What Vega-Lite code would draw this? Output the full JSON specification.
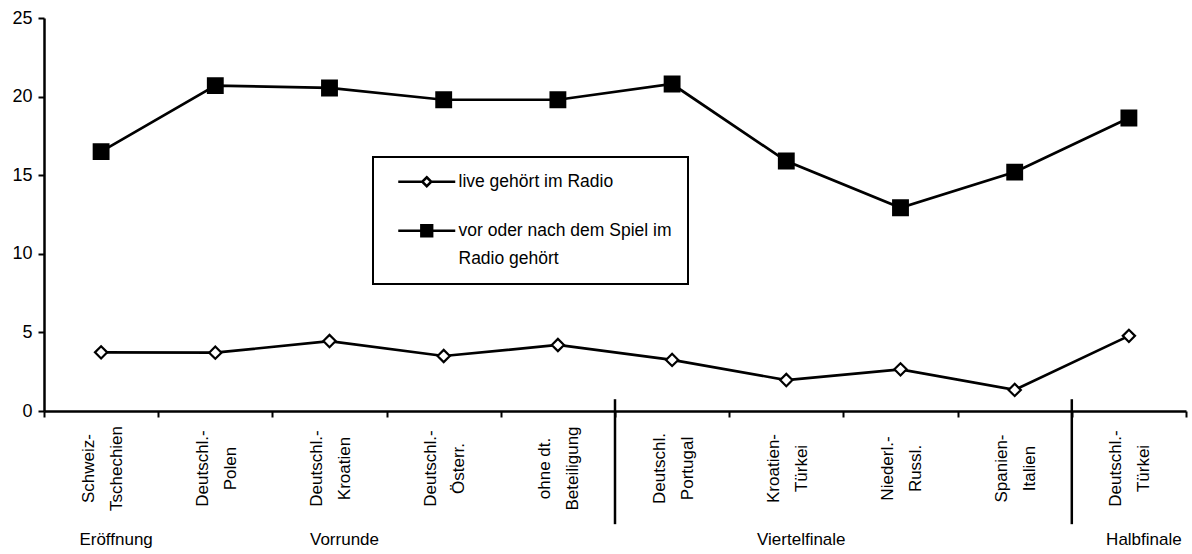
{
  "$schema": "https://vega.github.io/schema/vega-lite/v6.json",
  "width": 1142,
  "height": 393,
  "autosize": {"type": "none"},
  "padding": {"left": 44, "top": 18, "right": 6, "bottom": 143},
  "background": "white",
  "config": {
    "view": {"stroke": null},
    "font": "Liberation Sans",
    "axis": {"labelFont": "Liberation Sans", "labelColor": "black", "grid": false},
    "legend": {"labelFont": "Liberation Sans", "strokeWidth": 2},
    "style": {"guide-label": {"lineHeight": 28}}
  },
  "datasets": {
    "werte": [
      {"spiel": "Schweiz-|Tschechien", "serie": "live gehört im Radio", "wert": 3.73},
      {"spiel": "Deutschl.-|Polen", "serie": "live gehört im Radio", "wert": 3.71},
      {"spiel": "Deutschl.-|Kroatien", "serie": "live gehört im Radio", "wert": 4.45},
      {"spiel": "Deutschl.-|Österr.", "serie": "live gehört im Radio", "wert": 3.5},
      {"spiel": "ohne dt.|Beteiligung", "serie": "live gehört im Radio", "wert": 4.2},
      {"spiel": "Deutschl.|Portugal", "serie": "live gehört im Radio", "wert": 3.25},
      {"spiel": "Kroatien-|Türkei", "serie": "live gehört im Radio", "wert": 1.97},
      {"spiel": "Niederl.-|Russl.", "serie": "live gehört im Radio", "wert": 2.65},
      {"spiel": "Spanien-|Italien", "serie": "live gehört im Radio", "wert": 1.34},
      {"spiel": "Deutschl.-|Türkei", "serie": "live gehört im Radio", "wert": 4.78},
      {"spiel": "Schweiz-|Tschechien", "serie": "vor oder nach dem Spiel im Radio gehört", "wert": 16.5},
      {"spiel": "Deutschl.-|Polen", "serie": "vor oder nach dem Spiel im Radio gehört", "wert": 20.7},
      {"spiel": "Deutschl.-|Kroatien", "serie": "vor oder nach dem Spiel im Radio gehört", "wert": 20.55},
      {"spiel": "Deutschl.-|Österr.", "serie": "vor oder nach dem Spiel im Radio gehört", "wert": 19.8},
      {"spiel": "ohne dt.|Beteiligung", "serie": "vor oder nach dem Spiel im Radio gehört", "wert": 19.8},
      {"spiel": "Deutschl.|Portugal", "serie": "vor oder nach dem Spiel im Radio gehört", "wert": 20.8},
      {"spiel": "Kroatien-|Türkei", "serie": "vor oder nach dem Spiel im Radio gehört", "wert": 15.9},
      {"spiel": "Niederl.-|Russl.", "serie": "vor oder nach dem Spiel im Radio gehört", "wert": 12.93},
      {"spiel": "Spanien-|Italien", "serie": "vor oder nach dem Spiel im Radio gehört", "wert": 15.2},
      {"spiel": "Deutschl.-|Türkei", "serie": "vor oder nach dem Spiel im Radio gehört", "wert": 18.64}
    ],
    "trenner": [
      {"spiel": "Deutschl.|Portugal"},
      {"spiel": "Deutschl.-|Türkei"}
    ]
  },
  "resolve": {"scale": {"x": "shared", "y": "shared"}, "axis": {"x": "independent"}},
  "layer": [
    {
      "data": {"name": "werte"},
      "mark": {"type": "line", "stroke": "black", "strokeWidth": 2.7},
      "encoding": {
        "x": {
          "field": "spiel", "type": "nominal", "sort": null,
          "scale": {"domain": ["Schweiz-|Tschechien", "Deutschl.-|Polen", "Deutschl.-|Kroatien", "Deutschl.-|Österr.", "ohne dt.|Beteiligung", "Deutschl.|Portugal", "Kroatien-|Türkei", "Niederl.-|Russl.", "Spanien-|Italien", "Deutschl.-|Türkei"], "paddingInner": 0, "paddingOuter": 0},
          "axis": {
            "title": null, "orient": "bottom",
            "labelAngle": 270, "labelAlign": "center", "labelBaseline": "middle",
            "labelPadding": 51, "labelLineHeight": 28, "labelOffset": -13,
            "labelExpr": "split(datum.label, '|')",
            "labelFontSize": 17, "labelOverlap": false, "labelLimit": 300, "labelFlush": false,
            "tickBand": "extent", "tickSize": 6, "tickWidth": 2, "tickColor": "black",
            "domainColor": "black", "domainWidth": 2.5
          }
        },
        "y": {
          "field": "wert", "type": "quantitative",
          "scale": {"domain": [0, 25], "nice": false, "zero": true},
          "axis": {
            "title": null, "values": [0, 5, 10, 15, 20, 25],
            "domainColor": "black", "domainWidth": 2.5,
            "tickColor": "black", "tickWidth": 2, "tickSize": 6,
            "labelFontSize": 18, "labelPadding": 6
          }
        },
        "detail": {"field": "serie", "type": "nominal"}
      }
    },
    {
      "data": {"name": "werte"},
      "mark": {"type": "point", "filled": true, "stroke": "black", "strokeWidth": 2.2, "opacity": 1},
      "encoding": {
        "x": {
          "field": "spiel", "type": "nominal", "sort": null,
          "scale": {"domain": ["Schweiz-|Tschechien", "Deutschl.-|Polen", "Deutschl.-|Kroatien", "Deutschl.-|Österr.", "ohne dt.|Beteiligung", "Deutschl.|Portugal", "Kroatien-|Türkei", "Niederl.-|Russl.", "Spanien-|Italien", "Deutschl.-|Türkei"]},
          "axis": {
            "title": null, "orient": "bottom", "offset": 120,
            "domain": false, "ticks": false, "tickSize": 0,
            "labelAngle": 0, "labelAlign": "center", "labelBaseline": "top",
            "labelPadding": 0, "labelOffset": 15, "labelFontSize": 17, "labelOverlap": false,
            "values": ["Schweiz-|Tschechien", "Deutschl.-|Kroatien", "Kroatien-|Türkei", "Deutschl.-|Türkei"],
            "labelExpr": "datum.value == 'Schweiz-|Tschechien' ? 'Eröffnung' : datum.value == 'Deutschl.-|Kroatien' ? 'Vorrunde' : datum.value == 'Kroatien-|Türkei' ? 'Viertelfinale' : 'Halbfinale'"
          }
        },
        "y": {"field": "wert", "type": "quantitative"},
        "fill": {
          "condition": {"test": "datum.serie == 'live gehört im Radio'", "value": "white"},
          "value": "black"
        },
        "size": {
          "condition": {"test": "datum.serie == 'live gehört im Radio'", "value": 150},
          "value": 215
        },
        "shape": {
          "condition": {"test": "datum.serie == 'live gehört im Radio'", "value": "diamond"},
          "value": "square"
        }
      }
    },
    {
      "data": {"name": "trenner"},
      "mark": {"type": "rule", "stroke": "black", "strokeWidth": 2.5, "clip": false},
      "encoding": {
        "x": {
          "field": "spiel", "type": "nominal", "sort": null, "bandPosition": 0,
          "scale": {"domain": ["Schweiz-|Tschechien", "Deutschl.-|Polen", "Deutschl.-|Kroatien", "Deutschl.-|Österr.", "ohne dt.|Beteiligung", "Deutschl.|Portugal", "Kroatien-|Türkei", "Niederl.-|Russl.", "Spanien-|Italien", "Deutschl.-|Türkei"]},
          "axis": null
        },
        "y": {"datum": 0.75, "type": "quantitative"},
        "y2": {"datum": -7.2}
      }
    },
    {
      "data": {"name": "werte"},
      "mark": {"type": "point", "filled": true, "strokeWidth": 2.5, "opacity": 0},
      "encoding": {
        "x": {
          "field": "spiel", "type": "nominal", "sort": null,
          "scale": {"domain": ["Schweiz-|Tschechien", "Deutschl.-|Polen", "Deutschl.-|Kroatien", "Deutschl.-|Österr.", "ohne dt.|Beteiligung", "Deutschl.|Portugal", "Kroatien-|Türkei", "Niederl.-|Russl.", "Spanien-|Italien", "Deutschl.-|Türkei"]},
          "axis": null
        },
        "y": {"field": "wert", "type": "quantitative"},
        "stroke": {
          "field": "serie", "type": "nominal",
          "scale": {"domain": ["live gehört im Radio", "vor oder nach dem Spiel im Radio gehört"], "range": ["black", "black"]},
          "legend": {
            "title": null, "orient": "none", "legendX": 329, "legendY": 139, "direction": "vertical",
            "padding": 16, "strokeColor": "black", "fillColor": "white",
            "symbolSize": 144, "symbolStrokeWidth": 2.5, "symbolOpacity": 1,
            "symbolOffset": 29, "labelOffset": 23,
            "labelFontSize": 17.5, "labelColor": "black", "labelLimit": 400, "rowPadding": 28,
            "labelExpr": "datum.label == 'vor oder nach dem Spiel im Radio gehört' ? ['vor oder nach dem Spiel im', 'Radio gehört'] : datum.label"
          }
        },
        "fill": {
          "field": "serie", "type": "nominal",
          "scale": {"domain": ["live gehört im Radio", "vor oder nach dem Spiel im Radio gehört"], "range": ["white", "black"]},
          "legend": {
            "title": null, "orient": "none", "legendX": 329, "legendY": 139, "direction": "vertical",
            "padding": 16, "strokeColor": "black", "fillColor": "white",
            "symbolSize": 144, "symbolStrokeWidth": 2.5, "symbolOpacity": 1,
            "symbolOffset": 29, "labelOffset": 23,
            "labelFontSize": 17.5, "labelColor": "black", "labelLimit": 400, "rowPadding": 28,
            "labelExpr": "datum.label == 'vor oder nach dem Spiel im Radio gehört' ? ['vor oder nach dem Spiel im', 'Radio gehört'] : datum.label"
          }
        },
        "shape": {
          "field": "serie", "type": "nominal",
          "scale": {"domain": ["live gehört im Radio", "vor oder nach dem Spiel im Radio gehört"], "range": ["M-4.75,0H-0.75M0.75,0H4.75M0,-0.75L0.75,0L0,0.75L-0.75,0Z", "M-4.75,0H4.75M-0.9,-0.9H0.9V0.9H-0.9Z"]},
          "legend": {
            "title": null, "orient": "none", "legendX": 329, "legendY": 139, "direction": "vertical",
            "padding": 16, "strokeColor": "black", "fillColor": "white",
            "symbolSize": 144, "symbolStrokeWidth": 2.5, "symbolOpacity": 1,
            "symbolOffset": 29, "labelOffset": 23,
            "labelFontSize": 17.5, "labelColor": "black", "labelLimit": 400, "rowPadding": 28,
            "labelExpr": "datum.label == 'vor oder nach dem Spiel im Radio gehört' ? ['vor oder nach dem Spiel im', 'Radio gehört'] : datum.label"
          }
        }
      }
    }
  ]
}
